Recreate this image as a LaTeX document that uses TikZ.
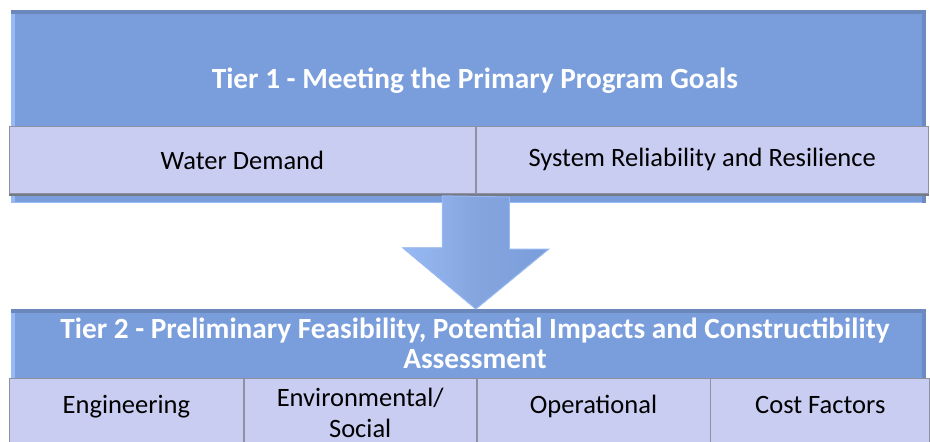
\documentclass[tikz,border=0pt]{standalone}
\usepackage{fontspec}
\setmainfont{Carlito}
\usetikzlibrary{positioning,calc}
\definecolor{tierblue}{RGB}{122,157,219}
\definecolor{tierlight}{RGB}{152,186,244}
\definecolor{tierdark}{RGB}{104,132,184}
\definecolor{cellfill}{RGB}{201,205,241}
\definecolor{cellline}{RGB}{142,145,162}
\definecolor{shadowgray}{RGB}{118,121,134}
\tikzset{
  % ---- tier panels ------------------------------------------------------
  panel/.style={
    fill=tierblue, draw=tierlight, line width=1pt,
    minimum width=914pt, inner sep=0pt, anchor=north west},
  ptitle/.style={
    font=\bfseries\fontsize{29.3}{30}\selectfont, text=white, align=center},
  % ---- criteria cells ---------------------------------------------------
  crit/.style={
    fill=cellfill, draw=cellline, line width=0.8pt, inner sep=0pt,
    font=\fontsize{26.5}{31}\selectfont, align=center},
  crits/.style={crit, minimum height=68pt},
  % single line cells of the second row sit a bit high
  critsh/.style={crits, text height=19pt, text depth=17pt},
  % ---- arrow ------------------------------------------------------------
  downar/.style={left color=tierlight, right color=tierblue,
    middle color=tierblue!92!white, draw=tierlight, line width=1pt},
}

\begin{document}
\begin{tikzpicture}[x=1pt,y=-1pt]
\clip (0,0) rectangle (930,442);
\fill[white] (0,0) rectangle (930,442);

% ============================ TIER 1 =======================================
\node[panel, minimum height=192pt] (t1) at (11,10) {};
\fill[tierlight] (t1.north west) rectangle ([xshift=4pt]t1.south west);
\fill[tierdark!85!tierblue] (t1.north west) rectangle ([yshift=-4pt]t1.north east);
\fill[tierdark!70!tierblue] ([xshift=-4pt]t1.north east) rectangle (t1.south east);
\node[ptitle, anchor=base] (t1title) at (475,88)
  {Tier 1 - Meeting the Primary Program Goals};

\node[crit, anchor=north west, minimum width=466pt, minimum height=67pt]
  (wd) at (9,126) {Water Demand};
\node[crit, minimum width=452pt, minimum height=67pt, right=0pt of wd]
  (srr) {System Reliability and Resilience};
\draw[shadowgray, line width=2pt]
  ([yshift=-1.6pt]wd.south west) -- ([yshift=-1.6pt]srr.south east);

% ============================ TIER 2 =======================================
\node[panel, minimum height=140pt] (t2) at (11,309) {};
\fill[tierlight] (t2.north west) rectangle ([xshift=4pt]t2.south west);
\fill[tierdark!85!tierblue] (t2.north west) rectangle ([yshift=-4pt]t2.north east);
\fill[tierdark!70!tierblue] ([xshift=-4pt]t2.north east) rectangle (t2.south east);
\node[ptitle] (t2title) at (475,343)
  {Tier 2 - Preliminary Feasibility, Potential Impacts and Constructibility\\
   Assessment};

\node[critsh, anchor=north west, minimum width=234pt] (eng) at (9,378) {Engineering};
\node[crits, minimum width=232pt, right=0pt of eng] (env) {Environmental/\\ Social};
\node[critsh, minimum width=233pt, right=0pt of env] (ops) {Operational};
\node[critsh, minimum width=219pt, right=0pt of ops] (cost) {Cost Factors};

% ---- block arrow from tier 1 down to tier 2 ----
\coordinate (tip) at (wd.south east |- t2.north);
\filldraw[downar] ($(wd.south east)+(-33.5,2)$) -- ++(0,52) -- ++(-39.5,0)
  -- (tip) -- ($(tip)+(73,-60)$) -- ++(-39.5,0) -- ++(0,-52) -- cycle;

\end{tikzpicture}
\end{document}
